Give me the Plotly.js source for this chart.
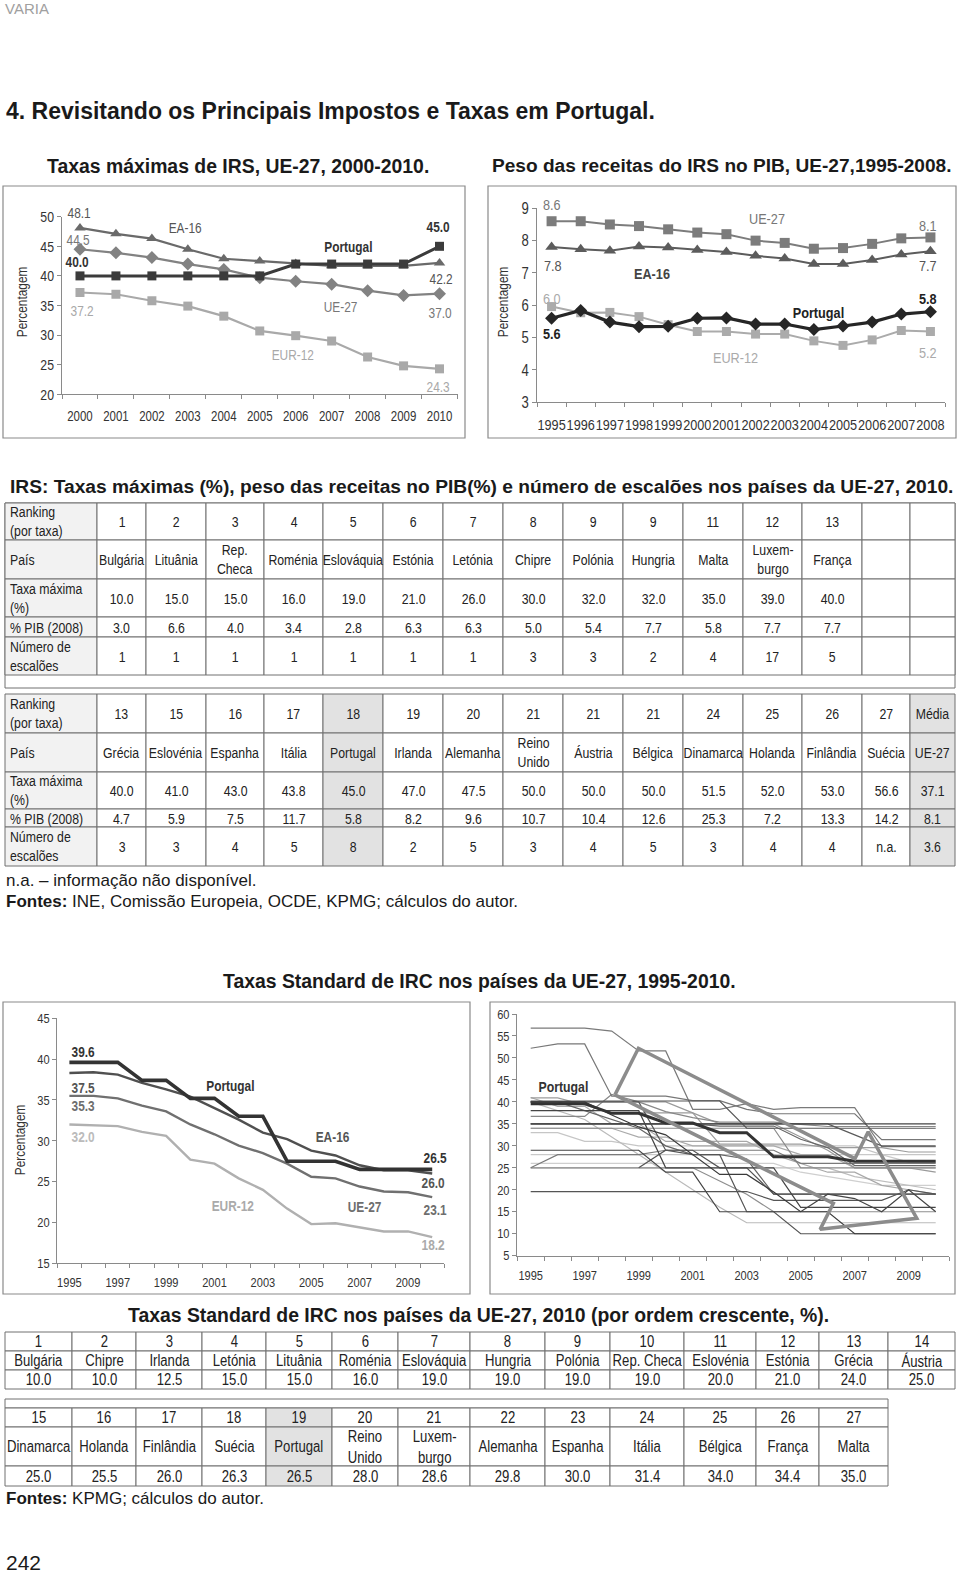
<!DOCTYPE html>
<html><head><meta charset="utf-8">
<script src="https://cdn.plot.ly/plotly-3.0.1.min.js"></script>
<style>html,body{margin:0;padding:0;background:#fff;}#page{width:960px;height:1574px;}</style>
</head><body><div id="page"></div>
<script>
// ================= DATA =================
// Chart 1: Taxas máximas de IRS, 2000-2010
const irsYears = [2000,2001,2002,2003,2004,2005,2006,2007,2008,2009,2010];
const irsPortugal = [40.0,40.0,40.0,40.0,40.0,40.0,42.0,42.0,42.0,42.0,45.0];
const irsEA16 = [48.1,47.1,46.3,44.5,42.9,42.5,42.1,41.7,41.7,41.7,42.2];
const irsUE27 = [44.5,43.9,43.1,42.0,41.1,39.7,39.1,38.6,37.5,36.7,37.0];
const irsEUR12 = [37.2,36.9,35.8,34.9,33.2,30.7,29.9,29.0,26.3,24.8,24.3];

// Chart 2: Peso das receitas do IRS no PIB, 1995-2008
const pibYears = [1995,1996,1997,1998,1999,2000,2001,2002,2003,2004,2005,2006,2007,2008];
const pibUE27 = [8.6,8.6,8.5,8.45,8.35,8.25,8.2,8.0,7.93,7.75,7.77,7.9,8.07,8.1];
const pibEA16 = [7.8,7.73,7.69,7.82,7.79,7.71,7.65,7.53,7.45,7.28,7.28,7.4,7.57,7.67];
const pibPortugal = [5.6,5.84,5.48,5.34,5.35,5.6,5.61,5.42,5.42,5.25,5.36,5.48,5.73,5.8];
const pibEUR12 = [5.96,5.77,5.78,5.65,5.4,5.19,5.19,5.11,5.11,4.9,4.76,4.93,5.22,5.19];

// Chart 3: Taxas standard de IRC, 1995-2010
const ircYears = [1995,1996,1997,1998,1999,2000,2001,2002,2003,2004,2005,2006,2007,2008,2009,2010];
const ircPortugal = [39.6,39.6,39.6,37.4,37.4,35.2,35.2,33.0,33.0,27.5,27.5,27.5,26.5,26.5,26.5,26.5];
const ircEA16 = [38.3,38.4,38.1,37.1,36.3,35.4,34.0,32.6,31.0,30.2,28.8,28.2,27.0,26.4,26.4,26.0];
const ircUE27 = [35.5,35.5,35.2,34.3,33.6,32.0,30.8,29.4,28.5,27.2,25.6,25.4,24.4,23.8,23.7,23.1];
const ircEUR12 = [32.0,31.9,31.8,31.1,30.6,27.7,27.2,25.4,24.0,21.7,19.8,19.9,19.4,18.9,18.9,18.2];

// Chart 4: country lines (UE-27), 1995-2010
const cGermany = [56.8,56.8,56.8,56.1,51.6,51.6,38.3,38.3,39.6,38.3,38.7,38.7,38.7,29.8,29.8,29.8];
const cItaly = [52.2,53.2,53.2,41.3,41.3,41.3,40.3,40.3,38.3,37.3,37.3,37.3,37.3,31.4,31.4,31.4];
const cFrance = [36.7,36.7,36.7,41.7,40.0,37.8,36.4,35.4,35.4,35.4,34.9,34.4,34.4,34.4,34.4,34.4];
const cBelgium = [40.2,40.2,40.2,40.2,40.2,40.2,40.2,40.2,34.0,34.0,34.0,34.0,34.0,34.0,34.0,34.0];
const cLuxembourg = [40.9,40.9,39.3,37.5,37.5,37.5,37.5,30.4,30.4,30.4,30.4,29.6,29.6,29.6,28.6,28.6];
const cIreland = [40,38,36,32,28,24,20,16,12.5,12.5,12.5,12.5,12.5,12.5,12.5,12.5];
const cNetherlands = [35,35,35,35,35,35,35,34.5,34.5,34.5,31.5,29.6,25.5,25.5,25.5,25.5];
const cSpain = [35,35,35,35,35,35,35,35,35,35,35,35,32.5,30,30,30];
const cMalta = [35,35,35,35,35,35,35,35,35,35,35,35,35,35,35,35];
const cAustria = [34,34,34,34,34,34,34,34,34,34,25,25,25,25,25,25];
const cDenmark = [34,34,34,34,32,32,30,30,30,30,28,28,25,25,25,25];
const cUK = [33,33,31,31,30,30,30,30,30,30,30,30,30,28,28,28];
const cSweden = [28,28,28,28,28,28,28,28,28,28,28,28,28,28,26.3,26.3];
const cFinland = [25,28,28,28,28,29,29,29,29,29,26,26,26,26,26,26];
const cGreece = [40,40,40,40,40,40,37.5,35,35,35,32,29,25,25,25,24];
const cCzech = [41,39,39,35,35,31,31,31,31,28,26,24,24,21,20,19];
const cSlovakia = [40,40,40,40,40,29,29,25,25,19,19,19,19,19,19,19];
const cPoland = [40,40,38,36,34,30,28,28,27,19,19,19,19,19,19,19];
const cHungary = [19.6,19.6,19.6,19.6,19.6,19.6,19.6,19.6,19.6,17.6,17.6,17.6,17.6,17.6,20,19];
const cLatvia = [25,25,25,25,25,25,25,22,19,15,15,15,15,15,15,15];
const cLithuania = [29,29,29,29,29,24,24,15,15,15,15,19,18,15,20,15];
const cEstonia = [26,26,26,26,26,26,26,26,26,26,24,23,22,21,21,21];
const cSlovenia = [25,25,25,25,25,25,25,25,25,25,25,25,23,22,21,20];
const cCyprus = [null,null,null,null,25,29,28,28,15,15,10,10,10,10,10,10];
const cRomania = [38,38,38,38,38,25,25,25,25,25,16,16,16,16,16,16];
const cBulgaria = [40,40,40,37,34.3,32.5,28,23.5,23.5,19.5,15,15,10,10,10,10];
// stray looped series as drawn in the original
const loopX = [1998.12,1998.99,2007.01,2007.5,2009.3,2005.72,2006.21,1998.12];
const loopY = [41.6,52.2,27.1,33.2,13.5,11.0,16.9,41.6];

// Table 1 / 2 : IRS 2010
const t1Rank = ['1','2','3','4','5','6','7','8','9','9','11','12','13','',''];
const t1Pais = ['Bulgária','Lituânia','Rep.<br>Checa','Roménia','Eslováquia','Estónia','Letónia','Chipre','Polónia','Hungria','Malta','Luxem-<br>burgo','França','',''];
const t1Taxa = ['10.0','15.0','15.0','16.0','19.0','21.0','26.0','30.0','32.0','32.0','35.0','39.0','40.0','',''];
const t1Pib = ['3.0','6.6','4.0','3.4','2.8','6.3','6.3','5.0','5.4','7.7','5.8','7.7','7.7','',''];
const t1Esc = ['1','1','1','1','1','1','1','3','3','2','4','17','5','',''];
const t2Rank = ['13','15','16','17','18','19','20','21','21','21','24','25','26','27','Média'];
const t2Pais = ['Grécia','Eslovénia','Espanha','Itália','Portugal','Irlanda','Alemanha','Reino<br>Unido','Áustria','Bélgica','Dinamarca','Holanda','Finlândia','Suécia','UE-27'];
const t2Taxa = ['40.0','41.0','43.0','43.8','45.0','47.0','47.5','50.0','50.0','50.0','51.5','52.0','53.0','56.6','37.1'];
const t2Pib = ['4.7','5.9','7.5','11.7','5.8','8.2','9.6','10.7','10.4','12.6','25.3','7.2','13.3','14.2','8.1'];
const t2Esc = ['3','3','4','5','8','2','5','3','4','5','3','4','4','n.a.','3.6'];
const rowLabels = ['Ranking<br>(por taxa)','País','Taxa máxima<br>(%)','% PIB (2008)','Número de<br>escalões'];

// Table 3 / 4 : IRC 2010
const t3Rank = ['1','2','3','4','5','6','7','8','9','10','11','12','13','14'];
const t3Pais = ['Bulgária','Chipre','Irlanda','Letónia','Lituânia','Roménia','Eslováquia','Hungria','Polónia','Rep. Checa','Eslovénia','Estónia','Grécia','Áustria'];
const t3Taxa = ['10.0','10.0','12.5','15.0','15.0','16.0','19.0','19.0','19.0','19.0','20.0','21.0','24.0','25.0'];
const t4Rank = ['15','16','17','18','19','20','21','22','23','24','25','26','27'];
const t4Pais = ['Dinamarca','Holanda','Finlândia','Suécia','Portugal','Reino<br>Unido','Luxem-<br>burgo','Alemanha','Espanha','Itália','Bélgica','França','Malta'];
const t4Taxa = ['25.0','25.5','26.0','26.3','26.5','28.0','28.6','29.8','30.0','31.4','34.0','34.4','35.0'];

// ================= LAYOUT HELPERS =================
const W = 960, H = 1574;
const px = x => x / W;
const py = y => 1 - y / H;
const NARROW = 'Liberation Sans Narrow, Arial Narrow, Liberation Sans, Arial, sans-serif';
const SANS = 'Liberation Sans, Arial, sans-serif';
const SQUEEZE = 0.82;   // narrow-face emulation when no condensed face is installed
const AXC = '#8a8a8a';

const traces = [];
const shapes = [];
const annotations = [];

function note(text, x, y, o) {
  o = o || {};
  annotations.push({
    text: text, x: px(x), y: py(y), xref: 'paper', yref: 'paper', showarrow: false,
    xanchor: o.xa || 'center', yanchor: 'middle', align: o.align || (o.xa === 'left' ? 'left' : 'center'),
    textangle: o.angle || 0,
    font: {family: o.family || NARROW, size: o.size || 14, color: o.color || '#333'}
  });
}
function box(x0, y0, x1, y1, color, width, fill) {
  shapes.push({type: 'rect', xref: 'paper', yref: 'paper', x0: px(x0), x1: px(x1), y0: py(y1), y1: py(y0),
    line: {color: color, width: width}, fillcolor: fill || 'rgba(0,0,0,0)', layer: 'below'});
}
function xAxis(dom, r0, r1, tv, size, standoff, anchor) {
  return {domain: [px(dom[0]), px(dom[1])], range: [r0, r1], anchor: anchor,
    tickmode: 'array', tickvals: tv, ticks: '', ticklabelstandoff: standoff, tickangle: 0,
    showline: true, linecolor: AXC, linewidth: 1, showgrid: false, zeroline: false,
    tickfont: {family: NARROW, size: size, color: '#333'},
    minor: {tickmode: 'linear', tick0: r0, dtick: 1, ticks: 'outside', ticklen: 4, tickcolor: AXC, tickwidth: 1, showgrid: false},
    fixedrange: true};
}
function yAxis(domPx, r0, r1, dtick, size, anchor) {
  return {domain: [py(domPx[0]), py(domPx[1])], range: [r0, r1], anchor: anchor,
    tick0: r0, dtick: dtick, ticks: 'outside', ticklen: 4, tickcolor: AXC,
    showline: true, linecolor: AXC, linewidth: 1, showgrid: false, zeroline: false,
    tickfont: {family: NARROW, size: size, color: '#333'}, fixedrange: true};
}

function lm(x, y, xa, ya, color, width, sym, size) {
  const t = {type: 'scatter', mode: sym ? 'lines+markers' : 'lines', x: x, y: y, xaxis: xa, yaxis: ya,
    line: {color: color, width: width}, cliponaxis: false, showlegend: false, hoverinfo: 'skip'};
  if (sym) t.marker = {symbol: sym, size: size, color: color};
  traces.push(t);
}
// ================= CHART 1 =================
lm(irsYears, irsEUR12, 'x', 'y', '#a9a9a9', 2.2, 'square', 9);
lm(irsYears, irsUE27, 'x', 'y', '#828282', 2.2, 'diamond', 10);
lm(irsYears, irsEA16, 'x', 'y', '#6a6a6a', 2.2, 'triangle-up', 10);
lm(irsYears, irsPortugal, 'x', 'y', '#3b3b3b', 3, 'square', 9);

// ================= CHART 2 =================
lm(pibYears, pibUE27, 'x2', 'y2', '#7c7c7c', 2, 'square', 10);
lm(pibYears, pibEA16, 'x2', 'y2', '#5c5c5c', 2, 'triangle-up', 11);
lm(pibYears, pibEUR12, 'x2', 'y2', '#ababab', 2, 'square', 9);
lm(pibYears, pibPortugal, 'x2', 'y2', '#262626', 3.2, 'diamond', 10);

// ================= CHART 3 =================
lm(ircYears, ircEUR12, 'x3', 'y3', '#b0b0b0', 2.4);
lm(ircYears, ircUE27, 'x3', 'y3', '#707070', 2.4);
lm(ircYears, ircEA16, 'x3', 'y3', '#505050', 2.4);
lm(ircYears, ircPortugal, 'x3', 'y3', '#333333', 3.6);

// ================= CHART 4 =================
const countrySeries = [
  [cUK, '#c6c6c6'], [cSweden, '#c9c9c9'], [cEstonia, '#cfcfcf'], [cSlovenia, '#bdbdbd'], [cIreland, '#bababa'],
  [cDenmark, '#ababab'], [cCzech, '#a8a8a8'], [cLuxembourg, '#9c9c9c'], [cGreece, '#9a9a9a'], [cLatvia, '#8e8e8e'],
  [cAustria, '#8a8a8a'], [cFrance, '#888888'], [cGermany, '#7a7a7a'], [cItaly, '#777777'], [cFinland, '#7a7a7a'],
  [cNetherlands, '#666666'], [cPoland, '#666666'], [cSpain, '#5a5a5a'], [cBelgium, '#555555'], [cSlovakia, '#555555'],
  [cHungary, '#555555'], [cCyprus, '#555555'], [cMalta, '#444444'], [cLithuania, '#444444'], [cRomania, '#454545'],
  [cBulgaria, '#3a3a3a']
];
countrySeries.forEach(s => lm(ircYears, s[0], 'x4', 'y4', s[1], 1.2));
lm(ircYears, ircPortugal, 'x4', 'y4', '#333333', 3);
lm(loopX, loopY, 'x4', 'y4', '#8c8c8c', 3.5);

// ================= AXES =================
const layoutAxes = {
  xaxis: xAxis([62, 457.5], 1999.5, 2010.5, irsYears, 14, 9, 'y'),
  yaxis: yAxis([394.3, 216.7], 20, 50, 5, 15, 'x'),
  xaxis2: xAxis([537, 945], 1994.5, 2008.5, pibYears, 15.5, 8, 'y2'),
  yaxis2: yAxis([402.3, 208.3], 3, 9, 1, 16, 'x2'),
  xaxis3: xAxis([57.3, 444.3], 1994.5, 2010.5, [1995,1997,1999,2001,2003,2005,2007,2009], 13.5, 7, 'y3'),
  yaxis3: yAxis([1263.3, 1018.3], 15, 45, 5, 13.5, 'x3'),
  xaxis4: xAxis([517.2, 949.2], 1994.5, 2010.5, [1995,1997,1999,2001,2003,2005,2007,2009], 13.5, 7, 'y4'),
  yaxis4: yAxis([1255.7, 1014], 5, 60, 5, 13.5, 'x4')
};

// chart frames
box(3, 186, 465, 438, '#8a8a8a', 1.2);
box(488, 186, 956, 438, '#8a8a8a', 1.2);
box(3, 1002, 470, 1294, '#8a8a8a', 1.2);
box(490, 1002, 955, 1294, '#8a8a8a', 1.2);

// chart labels
const C_POR = '#333', C_EA = '#555', C_UE = '#777', C_EUR = '#a8a8a8';
note('48.1', 79, 213, {color: C_EA, size: 14.5});
note('44.5', 78, 240, {color: C_UE, size: 14.5});
note('<b>40.0</b>', 77, 262, {color: C_POR, size: 14.5});
note('37.2', 82, 311, {color: C_EUR, size: 14.5});
note('EA-16', 185, 228, {color: C_EA, size: 14.5});
note('<b>Portugal</b>', 348, 247, {color: C_POR, size: 14.5});
note('UE-27', 340, 307, {color: C_UE, size: 14.5});
note('EUR-12', 293, 355, {color: C_EUR, size: 14.5});
note('<b>45.0</b>', 438, 227, {color: C_POR, size: 14.5});
note('42.2', 441, 279, {color: C_EA, size: 14.5});
note('37.0', 440, 313, {color: C_UE, size: 14.5});
note('24.3', 438, 387, {color: C_EUR, size: 14.5});

note('8.6', 552, 205, {color: C_UE, size: 15.5});
note('UE-27', 767, 218, {color: C_UE, size: 15.5});
note('8.1', 928, 225, {color: C_UE, size: 15.5});
note('7.8', 553, 265, {color: C_EA, size: 15.5});
note('<b>EA-16</b>', 652, 273, {color: '#444', size: 15.5});
note('7.7', 928, 265, {color: C_EA, size: 15.5});
note('6.0', 552, 298, {color: '#aaa', size: 15.5});
note('<b>5.8</b>', 928, 298, {color: '#222', size: 15.5});
note('<b>Portugal</b>', 818, 312, {color: '#222', size: 15.5});
note('<b>5.6</b>', 552, 333, {color: '#222', size: 15.5});
note('EUR-12', 735, 357, {color: '#aaa', size: 15.5});
note('5.2', 928, 352, {color: '#aaa', size: 15.5});

note('<b>39.6</b>', 83, 1052, {color: C_POR, size: 14.5});
note('<b>37.5</b>', 83, 1088, {color: C_EA, size: 14.5});
note('<b>35.3</b>', 83, 1106, {color: '#6e6e6e', size: 14.5});
note('<b>32.0</b>', 83, 1137, {color: '#bbb', size: 14.5});
note('<b>Portugal</b>', 230, 1086, {color: C_POR, size: 14.5});
note('<b>EA-16</b>', 332, 1137, {color: C_EA, size: 14.5});
note('<b>EUR-12</b>', 233, 1206, {color: '#aaa', size: 14.5});
note('<b>UE-27</b>', 364, 1207, {color: '#6e6e6e', size: 14.5});
note('<b>26.5</b>', 435, 1158, {color: C_POR, size: 14.5});
note('<b>26.0</b>', 433, 1183, {color: C_EA, size: 14.5});
note('<b>23.1</b>', 435, 1210, {color: '#6e6e6e', size: 14.5});
note('<b>18.2</b>', 433, 1245, {color: '#aaa', size: 14.5});
note('<b>Portugal</b>', 563, 1086, {color: C_POR, size: 15});

note('Percentagem', 22, 302, {angle: -90, size: 14.5});
note('Percentagem', 503, 302, {angle: -90, size: 14.5});
note('Percentagem', 20, 1140, {angle: -90, size: 14.5});

// ================= PAGE TEXT =================
note('VARIA', 3, 9, {xa: 'left', family: SANS, size: 15, color: '#a0a0a0'});
note('<b>4. Revisitando os Principais Impostos e Taxas em Portugal.</b>', 4, 111.5, {xa: 'left', family: SANS, size: 23, color: '#1a1a1a'});
note('<b>Taxas máximas de IRS, UE-27, 2000-2010.</b>', 45, 166, {xa: 'left', family: SANS, size: 19.4, color: '#1a1a1a'});
note('<b>Peso das receitas do IRS no PIB, UE-27,1995-2008.</b>', 490, 166, {xa: 'left', family: SANS, size: 19.1, color: '#1a1a1a'});
note('<b>IRS: Taxas máximas (%), peso das receitas no PIB(%) e número de escalões nos países da UE-27, 2010.</b>', 8, 487, {xa: 'left', family: SANS, size: 19.2, color: '#1a1a1a'});
note('n.a. – informação não disponível.', 4, 880, {xa: 'left', family: SANS, size: 17, color: '#1a1a1a'});
note('<b>Fontes:</b> INE, Comissão Europeia, OCDE, KPMG; cálculos do autor.', 4, 901, {xa: 'left', family: SANS, size: 17, color: '#1a1a1a'});
note('<b>Taxas Standard de IRC nos países da UE-27, 1995-2010.</b>', 479, 981, {family: SANS, size: 19.4, color: '#1a1a1a'});
note('<b>Taxas Standard de IRC nos países da UE-27, 2010 (por ordem crescente, %).</b>', 478, 1315, {family: SANS, size: 19.4, color: '#1a1a1a'});
note('<b>Fontes:</b> KPMG; cálculos do autor.', 4, 1498, {xa: 'left', family: SANS, size: 17, color: '#1a1a1a'});
note('242', 4, 1562, {xa: 'left', family: SANS, size: 21, color: '#1a1a1a'});

// ================= TABLES =================
const GRID = '#707070';
function table(colX, rowY, rows, colFill, size, firstLeft) {
  for (let r = 0; r < rows.length; r++) {
    for (let c = 0; c < colX.length - 1; c++) {
      const fill = colFill[c] || '#ffffff';
      box(colX[c], rowY[r], colX[c + 1], rowY[r + 1], GRID, 1, fill);
      const t = rows[r][c];
      if (t === '' || t === undefined) continue;
      const ym = (rowY[r] + rowY[r + 1]) / 2;
      if (firstLeft && c === 0) note(t, colX[c] + 3, ym, {xa: 'left', size: size, color: '#222'});
      else note(t, (colX[c] + colX[c + 1]) / 2, ym, {size: size, color: '#222'});
    }
  }
}
const T12_COLS = [5, 97, 146, 206, 264, 323, 383, 443, 503, 563, 623, 683, 743, 802, 862, 910, 955];
const T1_ROWS = [503, 540, 579, 617, 637, 675];
const T2_ROWS = [694, 733, 772, 809, 827, 866];
const T34_COLS = [5, 72, 136, 202, 266, 332, 398, 470, 545, 610, 684, 756, 819, 888, 955];
const T3_ROWS = [1332, 1351, 1370, 1389];
const T4_ROWS = [1408, 1427, 1466, 1486];
const LABEL_FILL = '#f2f2f2', HIGHLIGHT = '#e2e2e2';

box(5, 503, 955, 688, GRID, 1);
table(T12_COLS, T1_ROWS, [
  [rowLabels[0]].concat(t1Rank), [rowLabels[1]].concat(t1Pais), [rowLabels[2]].concat(t1Taxa),
  [rowLabels[3]].concat(t1Pib), [rowLabels[4]].concat(t1Esc)
], {0: LABEL_FILL}, 15, true);
table(T12_COLS, T2_ROWS, [
  [rowLabels[0]].concat(t2Rank), [rowLabels[1]].concat(t2Pais), [rowLabels[2]].concat(t2Taxa),
  [rowLabels[3]].concat(t2Pib), [rowLabels[4]].concat(t2Esc)
], {0: LABEL_FILL, 5: HIGHLIGHT, 15: HIGHLIGHT}, 15, true);
table(T34_COLS, T3_ROWS, [t3Rank, t3Pais, t3Taxa], {}, 16, false);
box(5, 1399, 888, 1408, GRID, 1);
table(T34_COLS.slice(0, 14), T4_ROWS, [t4Rank, t4Pais, t4Taxa], {4: HIGHLIGHT}, 16, false);

// ================= RENDER =================
const layout = Object.assign({
  width: W, height: H, autosize: false,
  margin: {l: 0, r: 0, t: 0, b: 0, pad: 0},
  paper_bgcolor: '#ffffff', plot_bgcolor: 'rgba(0,0,0,0)',
  showlegend: false, hovermode: false,
  shapes: shapes, annotations: annotations
}, layoutAxes);

function narrowFaceAvailable() {
  const c = document.createElement('canvas').getContext('2d');
  c.font = '40px "Liberation Sans Narrow", "Liberation Sans"';
  const a = c.measureText('Eslováquia 2000').width;
  c.font = '40px "Liberation Sans"';
  const b = c.measureText('Eslováquia 2000').width;
  return a < b * 0.95;
}
function squeeze(t, s) {
  const x = parseFloat(t.getAttribute('x')) || 0;
  const prev = t.getAttribute('transform') || '';
  t.setAttribute('transform', (prev ? prev + ' ' : '') + 'translate(' + x + ',0) scale(' + s + ',1) translate(' + (-x) + ',0)');
}
Plotly.newPlot('page', traces, layout, {staticPlot: true, displayModeBar: false}).then(gd => {
  if (narrowFaceAvailable()) return;
  gd.querySelectorAll('svg text').forEach(t => {
    const fam = (t.style && t.style.fontFamily) || t.getAttribute('font-family') || '';
    if (fam.indexOf('Narrow') >= 0) squeeze(t, SQUEEZE);
  });
});
</script>
</body></html>
